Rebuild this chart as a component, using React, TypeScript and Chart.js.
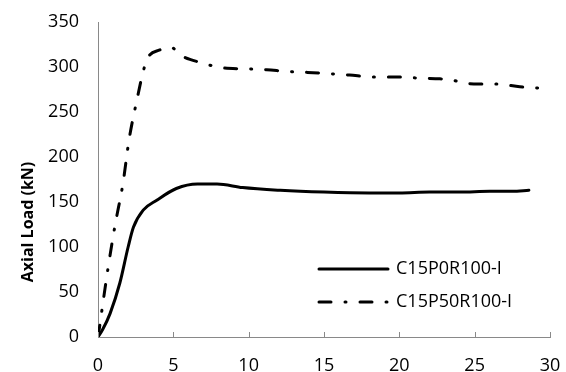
import React, { useEffect, useRef } from "react";
import { Chart, registerables } from "chart.js";

Chart.register(...registerables);

const seriesNames = ["C15P0R100-I", "C15P50R100-I"];

const solidX = [0, 0.3, 0.8, 1.45, 2.0, 2.35, 3.0, 3.9, 5.2, 6.6, 7.9, 9.6, 12.1, 15, 18, 20, 22, 24, 26, 27.5, 28.6];
const solidY = [0, 8, 26, 60, 100, 122, 141, 152, 165, 170, 170, 166, 163, 161, 160, 160, 161, 161, 162, 162, 163];

const dashX = [0, 0.12, 0.27, 0.67, 1.13, 1.66, 2.06, 2.59, 3.0, 3.3, 4.1, 4.8, 5.6, 6.8, 8.3, 9.6, 11.2, 12.5, 13.9, 15.4, 16.7, 18.2, 19.6, 20.9, 22.4, 23.4, 24.2, 25.2, 26.5, 28.0, 29.8];
const dashY = [0, 13, 31, 77, 124, 171, 219, 264, 295, 310, 319, 322, 312, 305, 299, 298, 297, 295, 294, 292.5, 291, 289, 289, 288, 287, 286, 282.5, 281, 281, 278, 276];

const xTicks = [0, 5, 10, 15, 20, 25, 30];
const yTitle = "Axial Load (kN)";

const FONT = "'Open Sans', sans-serif";
const AXIS_COLOR = "#898989";
const DASH_DOT = [12, 14, 1, 14];

const overlayPlugin = {
  id: "overlay",
  afterDraw(chart: any) {
    const ctx = chart.ctx;
    const area = chart.chartArea;
    const xs = chart.scales.x;
    ctx.save();
    ctx.strokeStyle = AXIS_COLOR;
    ctx.lineWidth = 1;
    xTicks.forEach((v) => {
      const px = Math.round(xs.getPixelForValue(v)) + 0.5;
      ctx.beginPath();
      ctx.moveTo(px, area.bottom);
      ctx.lineTo(px, area.bottom - 5);
      ctx.stroke();
    });
    ctx.fillStyle = "#000";
    ctx.font = `bold 16px ${FONT}`;
    ctx.textAlign = "center";
    ctx.textBaseline = "middle";
    ctx.translate(28, 222);
    ctx.rotate(-Math.PI / 2);
    ctx.fillText(yTitle, 0, 0);
    ctx.restore();

    ctx.save();
    const items = [
      { y: 269, dash: [] as number[] },
      { y: 302, dash: DASH_DOT },
    ];
    items.forEach((it, i) => {
      ctx.strokeStyle = "#000";
      ctx.lineWidth = 3;
      ctx.lineCap = "round";
      ctx.setLineDash(it.dash);
      ctx.beginPath();
      ctx.moveTo(319, it.y);
      ctx.lineTo(388, it.y);
      ctx.stroke();
      ctx.setLineDash([]);
      ctx.fillStyle = "#000";
      ctx.font = `18px ${FONT}`;
      ctx.textAlign = "left";
      ctx.textBaseline = "middle";
      ctx.fillText(seriesNames[i], 396, it.y);
    });
    ctx.restore();
  },
};

export default function App() {
  const ref = useRef<HTMLCanvasElement | null>(null);

  useEffect(() => {
    if (!ref.current) return;
    const chart = new Chart(ref.current, {
      type: "line",
      data: {
        datasets: [
          {
            label: seriesNames[0],
            data: solidX.map((x, i) => ({ x, y: solidY[i] })),
            borderColor: "#000",
            borderWidth: 3,
            pointRadius: 0,
            cubicInterpolationMode: "monotone",
            borderCapStyle: "round",
            borderJoinStyle: "round",
          },
          {
            label: seriesNames[1],
            data: dashX.map((x, i) => ({ x, y: dashY[i] })),
            borderColor: "#000",
            borderWidth: 3,
            borderDash: DASH_DOT,
            pointRadius: 0,
            cubicInterpolationMode: "monotone",
            borderCapStyle: "round",
            borderJoinStyle: "round",
          },
        ],
      },
      options: {
        animation: false,
        responsive: false,
        maintainAspectRatio: false,
        layout: { padding: { left: 0, right: 16, top: 22, bottom: 0 } },
        plugins: { legend: { display: false }, tooltip: { enabled: false } },
        scales: {
          x: {
            type: "linear",
            min: 0,
            max: 30,
            grid: { display: false, drawTicks: false },
            border: { display: true, color: AXIS_COLOR, width: 1 },
            ticks: {
              stepSize: 5,
              padding: 18,
              color: "#000",
              font: { family: FONT, size: 18 },
              maxRotation: 0,
            },
            afterFit(scale: any) {
              scale.height = 35;
              scale.paddingLeft = 0;
              scale.paddingRight = 0;
            },
          },
          y: {
            min: 0,
            max: 350,
            grid: { display: false, drawTicks: false },
            border: { display: true, color: AXIS_COLOR, width: 1 },
            ticks: {
              stepSize: 50,
              padding: 19,
              color: "#000",
              font: { family: FONT, size: 18 },
            },
            afterFit(scale: any) {
              scale.width = 98;
              scale.paddingTop = 0;
              scale.paddingBottom = 0;
            },
          },
        },
      },
      plugins: [overlayPlugin],
    } as any);
    return () => chart.destroy();
  }, []);

  return (
    <div style={{ position: "fixed", left: 0, top: 0, width: 566, height: 372, background: "#fff" }}>
      <canvas ref={ref} width={566} height={372} style={{ width: 566, height: 372 }} />
    </div>
  );
}
